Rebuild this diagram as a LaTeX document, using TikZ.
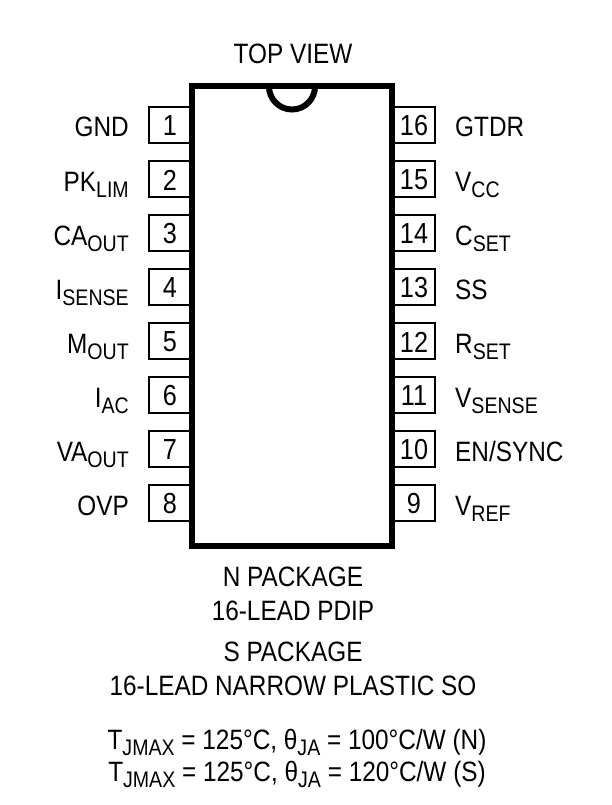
\documentclass[tikz,border=0pt]{standalone}
\usepackage{fontspec}
\setmainfont[FakeStretch=0.87]{Liberation Sans}
\tikzset{
 pinbox/.style={draw,line width=2pt,minimum width=41pt,minimum height=36pt,inner sep=0pt,font=\fontsize{29}{29}\selectfont},
 pinnum/.style={inner sep=0pt,font=\fontsize{29}{29}\selectfont},
 lbl/.style={inner sep=0pt,font=\fontsize{28}{28}\selectfont},
 captext/.style={inner sep=0pt,font=\fontsize{28}{32}\selectfont,anchor=base}
}
\newcommand{\sbs}[1]{\raisebox{-0.24em}{\fontsize{22.5}{24}\selectfont #1}}
\begin{document}
\begin{tikzpicture}[x=1pt,y=-1pt]
\useasboundingbox (0,0) rectangle (612,805);
\foreach \n/\y/\t in {1/125/GND,2/179/PK\sbs{LIM},3/233/CA\sbs{OUT},4/287/I\sbs{SENSE},5/341/M\sbs{OUT},6/395/I\sbs{AC},7/449/VA\sbs{OUT},8/503/OVP}{
 \node[pinbox] (l\n) at (169,\y) {};
 \node[pinnum] at (170,\y+1) {\n};
 \node[lbl,anchor=base east] (lt\n) at (129,\y+12) {\t};
}
\foreach \n/\y/\t in {16/125/GTDR,15/179/V\sbs{CC},14/233/C\sbs{SET},13/287/SS,12/341/R\sbs{SET},11/395/V\sbs{SENSE},10/449/{EN/SYNC},9/503/V\sbs{REF}}{
 \node[pinbox] (r\n) at (414,\y) {};
 \node[pinnum] at (414,\y+1) {\n};
 \node[lbl,anchor=base west] (rt\n) at (455,\y+12) {\t};
}
\draw[line width=6pt,fill=white] (191.5,86.5) rectangle (392,546);
\draw[line width=6pt] (269,86.5) arc[start angle=180,end angle=0,radius=23];
\node[captext] (top) at (293,64) {TOP VIEW};
\node[captext] (a) at (293,586) {N PACKAGE};
\node[captext] (b) at (293,620) {16-LEAD PDIP};
\node[captext] (c) at (293,661) {S PACKAGE};
\node[captext] (d) at (293,695) {16-LEAD NARROW PLASTIC SO};
\node[captext] (e) at (297,749) {T\sbs{JMAX} = 125°C, θ\sbs{JA} = 100°C/W (N)};
\node[captext] (f) at (297,781) {T\sbs{JMAX} = 125°C, θ\sbs{JA} = 120°C/W (S)};
\end{tikzpicture}
\end{document}
